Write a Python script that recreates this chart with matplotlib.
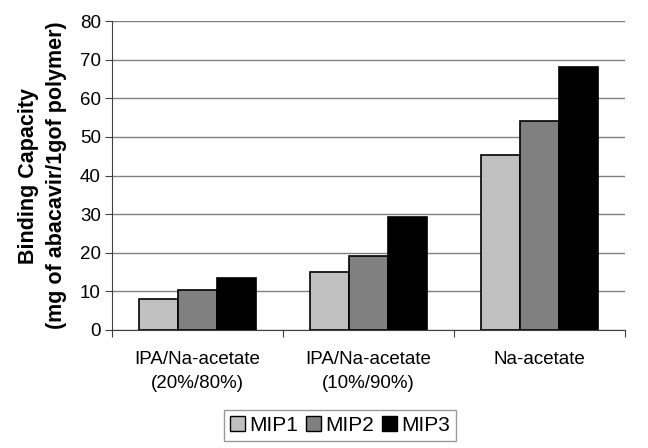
import numpy as np
import matplotlib
matplotlib.use('Agg')
import matplotlib.pyplot as plt
from matplotlib.patches import Patch

plt.rcParams['font.family'] = ['Liberation Sans', 'DejaVu Sans']

# data
categories = ['IPA/Na-acetate\n(20%/80%)', 'IPA/Na-acetate\n(10%/90%)', 'Na-acetate']
series = ['MIP1', 'MIP2', 'MIP3']
mip1 = [8.0, 14.9, 45.2]
mip2 = [10.4, 19.2, 54.0]
mip3 = [13.5, 29.2, 68.2]
colors = ['#c0c0c0', '#808080', '#000000']

fig = plt.figure(figsize=(6.48, 4.48), dpi=100)
ax = fig.add_axes([0.1728, 0.2634, 0.7917, 0.6896])

x = np.arange(len(categories))
w = 0.228
for i, (vals, clr) in enumerate(zip([mip1, mip2, mip3], colors)):
    ax.bar(x + (i - 1) * w, vals, w, color=clr, edgecolor='black', linewidth=1.2,
           label=series[i], zorder=3)

ax.set_xlim(-0.5, 2.5)
ax.set_ylim(0, 80)
ax.set_yticks(np.arange(0, 81, 10))
ax.yaxis.grid(True, color='#808080', linewidth=1.0, zorder=0)
ax.set_axisbelow(True)

# category boundary ticks like the original
ax.set_xticks([-0.5, 0.5, 1.5, 2.5])
ax.set_xticklabels([])
ax.set_xticks(x, minor=True)
ax.set_xticklabels(categories, minor=True, fontsize=13.5, linespacing=1.55)
ax.tick_params(axis='x', which='minor', length=0, pad=15)
ax.tick_params(axis='x', which='major', length=5, direction='out', color='#404040')
ax.tick_params(axis='y', length=5, direction='out', color='#404040', labelsize=13.5, pad=3)

for s in ['top', 'right']:
    ax.spines[s].set_visible(False)
ax.spines['left'].set_color('#404040')
ax.spines['bottom'].set_color('#404040')

ax.set_ylabel('Binding Capacity\n(mg of abacavir/1gof polymer)', fontsize=15.5,
              fontweight='bold', labelpad=9, linespacing=1.45)

handles = [Patch(facecolor=c, edgecolor='black', label=s) for c, s in zip(colors, series)]
leg = fig.legend(handles=handles, loc='upper center', bbox_to_anchor=(0.525, 0.109), ncol=3,
                 frameon=True, fancybox=False, fontsize=15, handlelength=0.7,
                 handleheight=0.7, handletextpad=0.2, columnspacing=0.4,
                 borderpad=0.3, edgecolor='#808080')
leg.get_frame().set_linewidth(1.0)

fig.savefig('out.png', dpi=100)
